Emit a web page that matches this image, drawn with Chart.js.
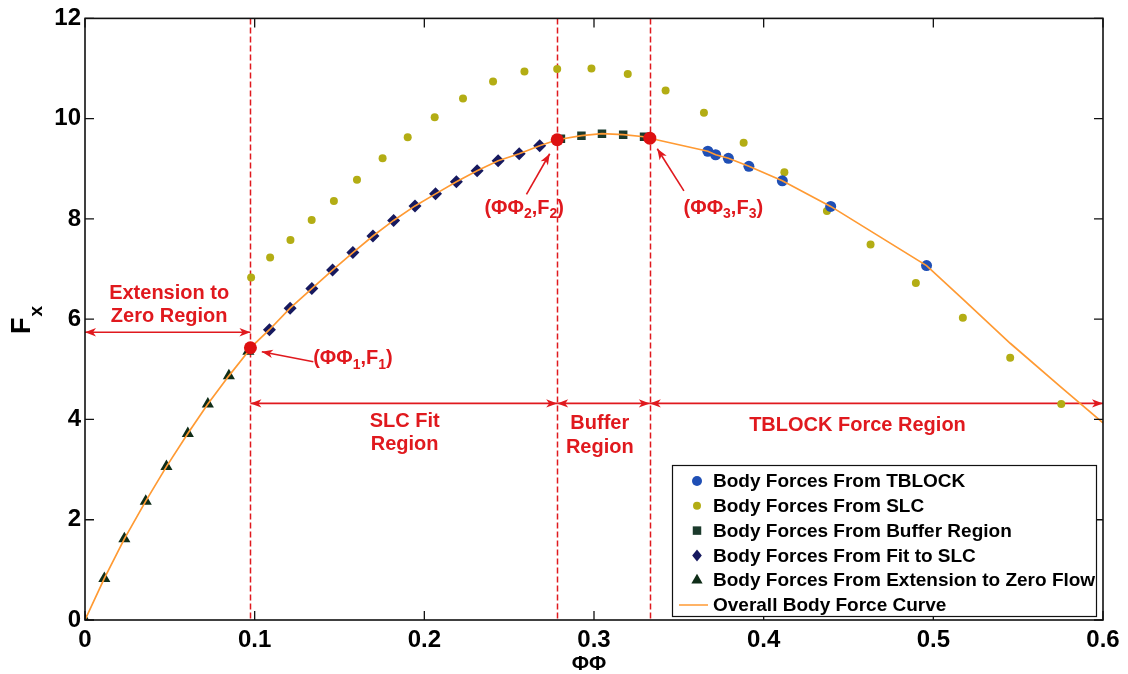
<!DOCTYPE html>
<html>
<head>
<meta charset="utf-8">
<script src="https://cdn.jsdelivr.net/npm/chart.js@4.4.0/dist/chart.umd.min.js"></script>
<style>
  html, body { margin: 0; padding: 0; background: #fff; }
  #wrap { width: 1128px; height: 674px; }
</style>
</head>
<body>
<div id="wrap"><canvas id="c" width="1128" height="674"></canvas></div>
<script>
// ---- body force data (ΦΦ, Fx) ----
const tbPhi  = [0.3671, 0.3717, 0.3792, 0.3913, 0.4110, 0.4395, 0.4960];
const tbF    = [9.35, 9.28, 9.21, 9.05, 8.76, 8.25, 7.07];

const slcPhi = [0.0979, 0.1091, 0.1211, 0.1336, 0.1467, 0.1603, 0.1754, 0.1902, 0.2061, 0.2228,
                0.2405, 0.2590, 0.2783, 0.2985, 0.3199, 0.3422, 0.3648, 0.3882, 0.4122, 0.4373,
                0.4630, 0.4897, 0.5174, 0.5453, 0.5754];
const slcF   = [6.83, 7.23, 7.58, 7.98, 8.36, 8.78, 9.21, 9.63, 10.03, 10.40,
                10.74, 10.94, 10.99, 11.00, 10.89, 10.56, 10.12, 9.52, 8.93, 8.16,
                7.49, 6.72, 6.03, 5.23, 4.31];

const bufPhi = [0.2805, 0.2926, 0.3047, 0.3172, 0.3295];
const bufF   = [9.60, 9.66, 9.70, 9.68, 9.64];

const fitPhi = [0.1087, 0.1209, 0.1337, 0.1459, 0.1579, 0.1697, 0.1819, 0.1945, 0.2066, 0.2189,
                0.2311, 0.2435, 0.2559, 0.2680];
const fitF   = [5.79, 6.22, 6.61, 6.98, 7.33, 7.66, 7.97, 8.26, 8.50, 8.74,
                8.96, 9.16, 9.30, 9.46];

const extPhi = [0, 0.0114, 0.0232, 0.0358, 0.0480, 0.0606, 0.0724, 0.0848, 0.0963];
const extF   = [0, 0.83, 1.62, 2.37, 3.06, 3.72, 4.31, 4.87, 5.36];

// region boundaries (ΦΦ1,F1), (ΦΦ2,F2), (ΦΦ3,F3)
const keyPhi = [0.0975, 0.2783, 0.3329];
const keyF   = [5.43, 9.58, 9.61];

// overall body force curve
const curvePhi = [0, 0.0114, 0.0232, 0.0358, 0.0480, 0.0606, 0.0724, 0.0848, 0.0963, 0.0975,
                  0.1087, 0.1209, 0.1337, 0.1459, 0.1579, 0.1697, 0.1819, 0.1945, 0.2066, 0.2189,
                  0.2311, 0.2435, 0.2559, 0.2680, 0.2783, 0.2926, 0.3047, 0.3172, 0.3295, 0.3329,
                  0.3671, 0.3717, 0.3792, 0.3913, 0.4110, 0.4395, 0.4960, 0.5174, 0.5453, 0.5754, 0.6];
const curveF   = [0, 0.83, 1.62, 2.37, 3.06, 3.72, 4.31, 4.87, 5.36, 5.43,
                  5.79, 6.22, 6.61, 6.98, 7.33, 7.66, 7.97, 8.26, 8.50, 8.74,
                  8.96, 9.16, 9.30, 9.46, 9.58, 9.66, 9.70, 9.68, 9.64, 9.61,
                  9.35, 9.28, 9.21, 9.05, 8.76, 8.25, 7.07, 6.40, 5.52, 4.64, 3.93];

// axis ticks
const xTickValues = [0, 0.1, 0.2, 0.3, 0.4, 0.5, 0.6];
const xTickLabels = ['0', '0.1', '0.2', '0.3', '0.4', '0.5', '0.6'];
const yTickValues = [0, 2, 4, 6, 8, 10, 12];
const yTickLabels = ['0', '2', '4', '6', '8', '10', '12'];

// region annotation levels (Fx) for the double arrows
const extArrowF = 5.74;
const regionArrowF = 4.32;

const FONT = "'Liberation Sans', Arial, Helvetica, sans-serif";
const RED = '#e0191e';
const C_TB = '#1f4fb5', C_SLC = '#b3ad14', C_BUF = '#1b3a2c', C_FIT = '#16195f', C_EXT = '#0f2d18', C_CURVE = '#ff9a33';

const pts = (xs, ys) => xs.map((v, i) => ({ x: v, y: ys[i] }));

function markerPath(ctx, style, x, y, r) {
  ctx.beginPath();
  if (style === 'circle') {
    ctx.arc(x, y, r, 0, Math.PI * 2);
  } else if (style === 'rect') {
    const s = Math.SQRT1_2 * r;
    ctx.rect(x - s, y - s, 2 * s, 2 * s);
  } else if (style === 'rectRot') {
    ctx.moveTo(x, y - r); ctx.lineTo(x + r * 0.8, y); ctx.lineTo(x, y + r); ctx.lineTo(x - r * 0.8, y); ctx.closePath();
  } else if (style === 'triangle') {
    ctx.moveTo(x, y - r);
    ctx.lineTo(x + r * Math.sin(Math.PI * 2 / 3), y - r * Math.cos(Math.PI * 2 / 3));
    ctx.lineTo(x - r * Math.sin(Math.PI * 2 / 3), y - r * Math.cos(Math.PI * 2 / 3));
    ctx.closePath();
  }
}

function arrowHead(ctx, tx, ty, ang) {
  const L = 11, W = 4.2, B = 8;
  const c = Math.cos(ang), s = Math.sin(ang);
  ctx.beginPath();
  ctx.moveTo(tx, ty);
  ctx.lineTo(tx - L * c + W * s, ty - L * s - W * c);
  ctx.lineTo(tx - B * c, ty - B * s);
  ctx.lineTo(tx - L * c - W * s, ty - L * s + W * c);
  ctx.closePath();
  ctx.fill();
}

function arrow(ctx, x1, y1, x2, y2, both) {
  ctx.beginPath(); ctx.moveTo(x1, y1); ctx.lineTo(x2, y2); ctx.stroke();
  const a = Math.atan2(y2 - y1, x2 - x1);
  arrowHead(ctx, x2, y2, a);
  if (both) arrowHead(ctx, x1, y1, a + Math.PI);
}

// text with subscripts: parts = [[text, isSub], ...]
function richText(ctx, parts, x, y, size) {
  let cx = x;
  parts.forEach(([t, sub]) => {
    ctx.font = 'bold ' + (sub ? Math.round(size * 0.7) : size) + 'px ' + FONT;
    ctx.fillText(t, cx, sub ? y + size * 0.3 : y);
    cx += ctx.measureText(t).width;
  });
}

const overlay = {
  id: 'overlay',
  beforeDatasetsDraw(chart) {
    const { ctx, chartArea: a, scales: { x, y } } = chart;
    ctx.save();
    // dashed region boundaries
    ctx.strokeStyle = RED; ctx.lineWidth = 1.5; ctx.setLineDash([6, 3]);
    keyPhi.forEach(p => {
      const px = Math.round(x.getPixelForValue(p)) + 0.5;
      ctx.beginPath(); ctx.moveTo(px, a.top); ctx.lineTo(px, a.bottom); ctx.stroke();
    });
    ctx.setLineDash([]);
    // region extent arrows
    ctx.fillStyle = RED; ctx.lineWidth = 1.6;
    const ye = y.getPixelForValue(extArrowF);
    arrow(ctx, x.getPixelForValue(0), ye, x.getPixelForValue(keyPhi[0]), ye, true);
    const yr = y.getPixelForValue(regionArrowF);
    const bounds = [keyPhi[0], keyPhi[1], keyPhi[2], 0.6];
    for (let i = 0; i < 3; i++) {
      arrow(ctx, x.getPixelForValue(bounds[i]), yr, x.getPixelForValue(bounds[i + 1]), yr, true);
    }
    // pointer arrows to boundary points
    const pointers = [
      [0.1346, 5.15, 0.1042, 5.35],
      [0.2602, 8.49, 0.2739, 9.30],
      [0.3530, 8.56, 0.3373, 9.40]
    ];
    pointers.forEach(([a1, b1, a2, b2]) => {
      arrow(ctx, x.getPixelForValue(a1), y.getPixelForValue(b1), x.getPixelForValue(a2), y.getPixelForValue(b2), false);
    });
    ctx.restore();
  },
  afterDatasetsDraw(chart) {
    const { ctx, chartArea: a, scales: { x, y } } = chart;
    ctx.save();
    // region labels
    ctx.fillStyle = RED;
    ctx.font = 'bold 20px ' + FONT;
    ctx.textAlign = 'center'; ctx.textBaseline = 'middle';
    const labels = [
      ['Extension to', 0.0496, 6.52], ['Zero Region', 0.0496, 6.06],
      ['SLC Fit', 0.1884, 3.95], ['Region', 0.1884, 3.50],
      ['Buffer', 0.3034, 3.91], ['Region', 0.3034, 3.45],
      ['TBLOCK Force Region', 0.4553, 3.87]
    ];
    labels.forEach(([t, px, py]) => ctx.fillText(t, x.getPixelForValue(px), y.getPixelForValue(py)));
    ctx.textAlign = 'left'; ctx.textBaseline = 'middle';
    [['1', 0.1345, 5.21], ['2', 0.2354, 8.21], ['3', 0.3528, 8.21]].forEach(([n, px, py]) => {
      richText(ctx, [['(ΦΦ', false], [n, true], [',F', false], [n, true], [')', false]],
        x.getPixelForValue(px), y.getPixelForValue(py), 20);
    });

    // axes box with inward ticks
    ctx.strokeStyle = '#111'; ctx.lineWidth = 1.6;
    ctx.strokeRect(a.left, a.top, a.right - a.left, a.bottom - a.top);
    ctx.lineWidth = 1.3;
    const T = 9;
    xTickValues.forEach(v => {
      const px = x.getPixelForValue(v);
      ctx.beginPath();
      ctx.moveTo(px, a.bottom); ctx.lineTo(px, a.bottom - T);
      ctx.moveTo(px, a.top); ctx.lineTo(px, a.top + T);
      ctx.stroke();
    });
    yTickValues.forEach(v => {
      const py = y.getPixelForValue(v);
      ctx.beginPath();
      ctx.moveTo(a.left, py); ctx.lineTo(a.left + T, py);
      ctx.moveTo(a.right, py); ctx.lineTo(a.right - T, py);
      ctx.stroke();
    });

    // axis titles
    ctx.fillStyle = '#000';
    ctx.font = 'bold 21px ' + FONT;
    ctx.textAlign = 'center'; ctx.textBaseline = 'middle';
    ctx.fillText('ΦΦ', 589, 664);
    ctx.save();
    ctx.translate(30, 334);
    ctx.rotate(-Math.PI / 2);
    ctx.textAlign = 'left'; ctx.textBaseline = 'alphabetic';
    ctx.font = 'bold 27px ' + FONT;
    ctx.fillText('F', 0, 0);
    const fw = ctx.measureText('F').width;
    ctx.font = 'bold 19px ' + FONT;
    ctx.fillText('x', fw + 1, 12);
    ctx.restore();

    // legend
    const lx = 672, ly = 465, lw = 424, lh = 151;
    ctx.fillStyle = '#fff';
    ctx.fillRect(lx, ly, lw, lh);
    ctx.strokeStyle = '#111'; ctx.lineWidth = 1.2;
    ctx.strokeRect(lx + 0.5, ly + 0.5, lw, lh);
    const rows = chart.data.datasets.filter(d => d.inLegend);
    ctx.font = 'bold 19px ' + FONT;
    ctx.textAlign = 'left'; ctx.textBaseline = 'middle';
    rows.forEach((d, i) => {
      const ry = ly + 16 + i * 24.8;
      if (d.showLine) {
        ctx.strokeStyle = d.borderColor; ctx.lineWidth = 1.5;
        ctx.beginPath(); ctx.moveTo(679, ry); ctx.lineTo(708, ry); ctx.stroke();
      } else {
        ctx.fillStyle = d.backgroundColor;
        markerPath(ctx, d.pointStyle, 697, ry, d.legendRadius);
        ctx.fill();
      }
      ctx.fillStyle = '#000';
      ctx.fillText(d.label, 713, ry + 1);
    });
    ctx.restore();
  }
};

new Chart(document.getElementById('c'), {
  type: 'scatter',
  data: {
    datasets: [
      { label: 'Body Forces From TBLOCK', data: pts(tbPhi, tbF), pointStyle: 'circle', pointRadius: 5.5,
        backgroundColor: C_TB, borderColor: C_TB, borderWidth: 0, order: 3, inLegend: true, legendRadius: 5 },
      { label: 'Body Forces From SLC', data: pts(slcPhi, slcF), pointStyle: 'circle', pointRadius: 4,
        backgroundColor: C_SLC, borderColor: C_SLC, borderWidth: 0, order: 4, inLegend: true, legendRadius: 4 },
      { label: 'Body Forces From Buffer Region', data: pts(bufPhi, bufF), pointStyle: 'rect', pointRadius: 6,
        backgroundColor: C_BUF, borderColor: C_BUF, borderWidth: 0, order: 3, inLegend: true, legendRadius: 6 },
      { label: 'Body Forces From Fit to SLC', data: pts(fitPhi, fitF), pointStyle: 'rectRot', pointRadius: 6.5,
        backgroundColor: C_FIT, borderColor: C_FIT, borderWidth: 0, order: 3, inLegend: true, legendRadius: 6 },
      { label: 'Body Forces From Extension to Zero Flow', data: pts(extPhi, extF), pointStyle: 'triangle', pointRadius: 7,
        backgroundColor: C_EXT, borderColor: C_EXT, borderWidth: 0, order: 3, inLegend: true, legendRadius: 6.5 },
      { label: 'Overall Body Force Curve', data: pts(curvePhi, curveF), showLine: true, pointRadius: 0,
        borderColor: C_CURVE, backgroundColor: C_CURVE, borderWidth: 1.7, tension: 0, order: 1, inLegend: true },
      { label: 'Region boundaries', data: pts(keyPhi, keyF), pointStyle: 'circle', pointRadius: 6.5,
        backgroundColor: '#dd1010', borderColor: '#dd1010', borderWidth: 0, order: 0, inLegend: false }
    ]
  },
  options: {
    responsive: false,
    animation: false,
    devicePixelRatio: 1,
    events: [],
    layout: { padding: { top: 16, right: 25, left: 0, bottom: 0 } },
    plugins: { legend: { display: false }, tooltip: { enabled: false } },
    scales: {
      x: {
        type: 'linear', min: 0, max: 0.6,
        grid: { display: false, tickLength: 0 }, border: { display: false },
        afterBuildTicks: s => { s.ticks = xTickValues.map(v => ({ value: v })); },
        afterFit: s => { s.height = 54; },
        ticks: { callback: (v, i) => xTickLabels[i], color: '#000', padding: 6,
                 maxRotation: 0, autoSkip: false, font: { family: FONT, size: 24, weight: 'bold' } }
      },
      y: {
        type: 'linear', min: 0, max: 12,
        grid: { display: false, tickLength: 0 }, border: { display: false },
        afterBuildTicks: s => { s.ticks = yTickValues.map(v => ({ value: v })); },
        afterFit: s => { s.width = 85; },
        ticks: { callback: (v, i) => yTickLabels[i], color: '#000', padding: 4,
                 autoSkip: false, font: { family: FONT, size: 24, weight: 'bold' } }
      }
    }
  },
  plugins: [overlay]
});
</script>
</body>
</html>
